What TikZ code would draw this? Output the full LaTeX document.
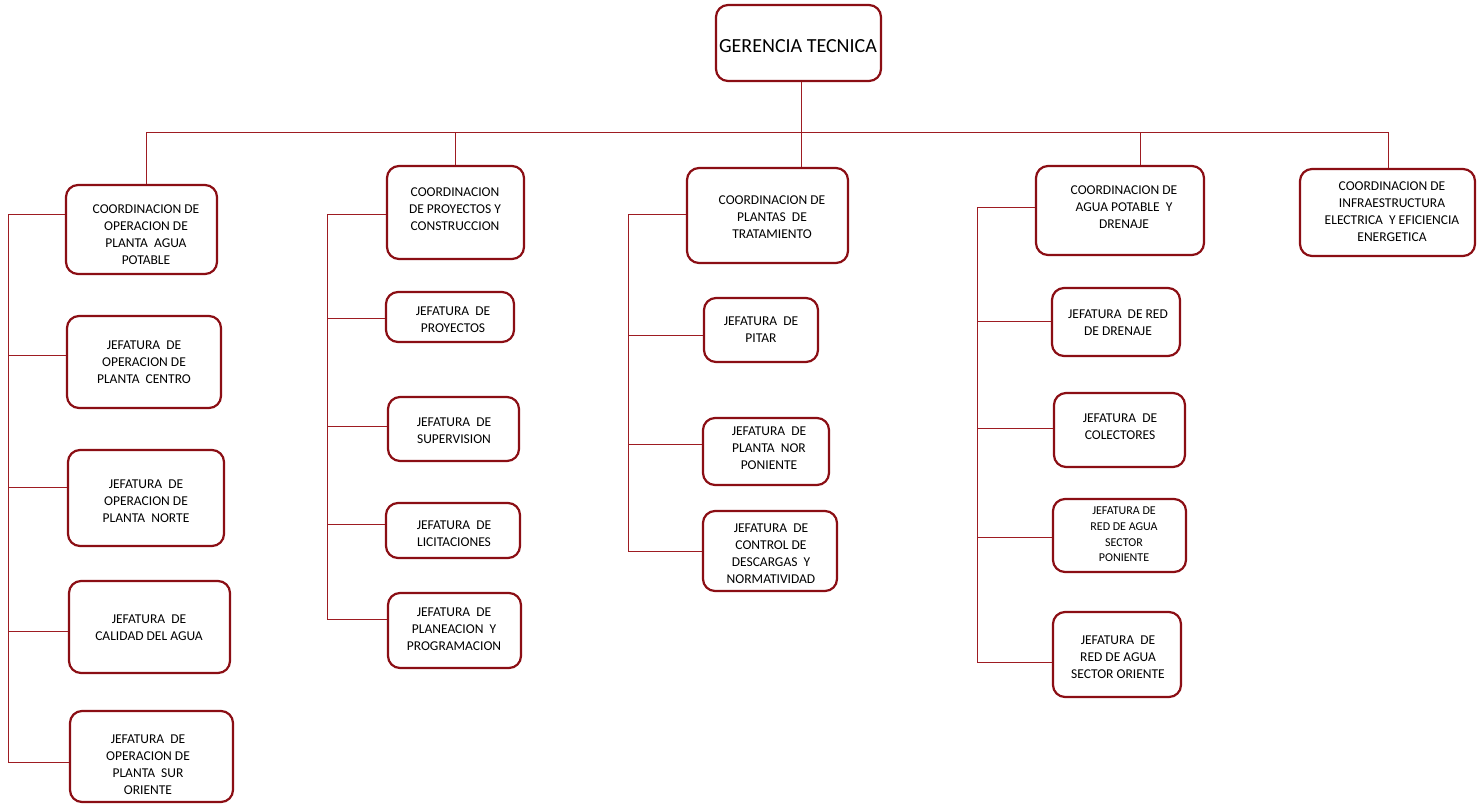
\documentclass[tikz,border=0pt]{standalone}
\usepackage{fontspec}
\setmainfont{Carlito}
\definecolor{boxred}{RGB}{139,14,20}
\definecolor{linered}{RGB}{158,28,34}
\tikzset{
  box/.style={draw=boxred, line width=2.2pt, rounded corners=12pt, fill=white, inner sep=0pt},
  conn/.style={draw=linered, line width=0.85pt},
  lbl/.style={align=center, inner sep=0pt, font=\fontsize{13.5}{17}\selectfont},
  lblsm/.style={align=center, inner sep=0pt, font=\fontsize{12}{15.7}\selectfont},
  toplbl/.style={align=center, inner sep=0pt, font=\fontsize{20}{24}\selectfont}
}
\begin{document}
\begin{tikzpicture}[x=1pt,y=-1pt]
\useasboundingbox[fill=white] (0,0) rectangle (1481,804);
% boxes
\node[box, minimum width=165, minimum height=76] (top) at (798.5,43) {};
\node[box, minimum width=151, minimum height=89] (C1) at (141.5,229.5) {};
\node[box, minimum width=137, minimum height=93] (C2) at (455.5,212.5) {};
\node[box, minimum width=161, minimum height=95] (C3) at (767.5,215.5) {};
\node[box, minimum width=168, minimum height=89] (C4) at (1120,210.5) {};
\node[box, minimum width=175, minimum height=87] (C5) at (1387.5,212.5) {};
\node[box, minimum width=154, minimum height=92] (J1a) at (144,362) {};
\node[box, minimum width=156, minimum height=96] (J1b) at (146,498) {};
\node[box, minimum width=161, minimum height=92] (J1c) at (149.5,627) {};
\node[box, minimum width=163, minimum height=91] (J1d) at (151.5,756.5) {};
\node[box, minimum width=128, minimum height=50] (J2a) at (450,317) {};
\node[box, minimum width=131, minimum height=64] (J2b) at (453.5,429) {};
\node[box, minimum width=134, minimum height=55] (J2c) at (453,530.5) {};
\node[box, minimum width=133, minimum height=75] (J2d) at (454.5,630.5) {};
\node[box, minimum width=114, minimum height=64] (J3a) at (761,330) {};
\node[box, minimum width=126, minimum height=67] (J3b) at (766,451.5) {};
\node[box, minimum width=134, minimum height=80] (J3c) at (770,551) {};
\node[box, minimum width=128, minimum height=68] (J4a) at (1116,322) {};
\node[box, minimum width=131, minimum height=74] (J4b) at (1119.5,430) {};
\node[box, minimum width=133, minimum height=73] (J4c) at (1119.5,535.5) {};
\node[box, minimum width=128, minimum height=85] (J4d) at (1117,654.5) {};
% labels
\node[toplbl] (tTop) at (798,46) {GERENCIA TECNICA};
\node[lbl] (tC1) at (146,234.5) {COORDINACION DE\\OPERACION DE\\PLANTA~ AGUA\\POTABLE};
\node[lbl] (tC2) at (455,209) {COORDINACION\\DE PROYECTOS Y\\CONSTRUCCION};
\node[lbl] (tC3) at (772,217) {COORDINACION DE\\PLANTAS~ DE\\TRATAMIENTO};
\node[lbl] (tC4) at (1124,207) {COORDINACION DE\\AGUA POTABLE~ Y\\DRENAJE};
\node[lbl] (tC5) at (1392,212) {COORDINACION DE\\INFRAESTRUCTURA\\ELECTRICA~ Y EFICIENCIA\\ENERGETICA};
\node[lbl] (tJ1a) at (144,362) {JEFATURA~ DE\\OPERACION DE\\PLANTA~ CENTRO};
\node[lbl] (tJ1b) at (146,501) {JEFATURA~ DE\\OPERACION DE\\PLANTA~ NORTE};
\node[lbl] (tJ1c) at (149,627.5) {JEFATURA~ DE\\CALIDAD DEL AGUA};
\node[lbl] (tJ1d) at (148,764.5) {JEFATURA~ DE\\OPERACION DE\\PLANTA~ SUR\\ORIENTE};
\node[lbl] (tJ2a) at (453,319.5) {JEFATURA~ DE\\PROYECTOS};
\node[lbl] (tJ2b) at (454,430.5) {JEFATURA~ DE\\SUPERVISION};
\node[lbl] (tJ2c) at (454,533.5) {JEFATURA~ DE\\LICITACIONES};
\node[lbl] (tJ2d) at (454,629) {JEFATURA~ DE\\PLANEACION~ Y\\PROGRAMACION};
\node[lbl] (tJ3a) at (761,330) {JEFATURA~ DE\\PITAR};
\node[lbl] (tJ3b) at (769,448) {JEFATURA~ DE\\PLANTA~ NOR\\PONIENTE};
\node[lbl] (tJ3c) at (771,553.5) {JEFATURA~ DE\\CONTROL DE\\DESCARGAS~ Y\\NORMATIVIDAD};
\node[lbl] (tJ4a) at (1118,323) {JEFATURA~ DE RED\\DE DRENAJE};
\node[lbl] (tJ4b) at (1120,427) {JEFATURA~ DE\\COLECTORES};
\node[lblsm] (tJ4c) at (1124,534.5) {JEFATURA DE\\RED DE AGUA\\SECTOR\\PONIENTE};
\node[lbl] (tJ4d) at (1118,657) {JEFATURA~ DE\\RED DE AGUA\\SECTOR ORIENTE};
% bus
\coordinate (d1) at (146,132);
\coordinate (d2) at (455,132);
\coordinate (d3) at (801,132);
\coordinate (d4) at (1140,132);
\coordinate (d5) at (1388,132);
\draw[conn] (top.south -| d3) -- (d3);
\draw[conn] (d1) -- (d5);
\draw[conn] (d1) -- (d1 |- C1.north);
\draw[conn] (d2) -- (d2 |- C2.north);
\draw[conn] (d3) -- (d3 |- C3.north);
\draw[conn] (d4) -- (d4 |- C4.north);
\draw[conn] (d5) -- (d5 |- C5.north);
% column 1
\coordinate (a0) at (8,214);
\coordinate (a1) at (8,355);
\coordinate (a2) at (8,487);
\coordinate (a3) at (8,631);
\coordinate (a4) at (8,762);
\draw[conn] (a0) -- (a4);
\draw[conn] (a0) -- (a0 -| C1.west);
\draw[conn] (a1) -- (a1 -| J1a.west);
\draw[conn] (a2) -- (a2 -| J1b.west);
\draw[conn] (a3) -- (a3 -| J1c.west);
\draw[conn] (a4) -- (a4 -| J1d.west);
% column 2
\coordinate (b0) at (327,214);
\coordinate (b1) at (327,318);
\coordinate (b2) at (327,426);
\coordinate (b3) at (327,524);
\coordinate (b4) at (327,619);
\draw[conn] (b0) -- (b4);
\draw[conn] (b0) -- (b0 -| C2.west);
\draw[conn] (b1) -- (b1 -| J2a.west);
\draw[conn] (b2) -- (b2 -| J2b.west);
\draw[conn] (b3) -- (b3 -| J2c.west);
\draw[conn] (b4) -- (b4 -| J2d.west);
% column 3
\coordinate (c0) at (628,214);
\coordinate (c1) at (628,335);
\coordinate (c2) at (628,444);
\coordinate (c3) at (628,551);
\draw[conn] (c0) -- (c3);
\draw[conn] (c0) -- (c0 -| C3.west);
\draw[conn] (c1) -- (c1 -| J3a.west);
\draw[conn] (c2) -- (c2 -| J3b.west);
\draw[conn] (c3) -- (c3 -| J3c.west);
% column 4
\coordinate (e0) at (977,207);
\coordinate (e1) at (977,321);
\coordinate (e2) at (977,428);
\coordinate (e3) at (977,537);
\coordinate (e4) at (977,662);
\draw[conn] (e0) -- (e4);
\draw[conn] (e0) -- (e0 -| C4.west);
\draw[conn] (e1) -- (e1 -| J4a.west);
\draw[conn] (e2) -- (e2 -| J4b.west);
\draw[conn] (e3) -- (e3 -| J4c.west);
\draw[conn] (e4) -- (e4 -| J4d.west);
\end{tikzpicture}
\end{document}
